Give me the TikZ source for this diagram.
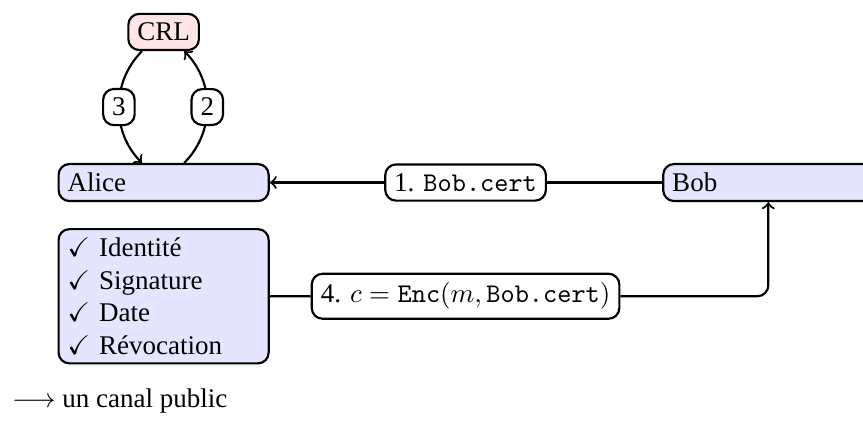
\documentclass[tikz,border=0pt]{standalone}
\usepackage{amssymb}
\usepackage{fontspec}
\setmainfont{Liberation Serif}
\usetikzlibrary{positioning, arrows}
\tikzstyle{party} = [rectangle, rounded corners, text width=2.5cm, align=left, draw=black, thick, fill=blue!10]
\tikzstyle{crlbox} = [rectangle, rounded corners, text centered, draw=black, thick, fill=red!10]
\tikzstyle{msg} = [rectangle, rounded corners, text centered, draw=black, thick, fill=white]
\tikzstyle{arrow} = [thick,->]

\begin{document}
\begin{tikzpicture}[node distance=2cm]
  \useasboundingbox (-60.6pt,67.6pt) rectangle ++(319.6pt,-155.9pt);

  \node (alice) [party] at (0,0) {Alice};
  \node (checks) [party, below of=alice, yshift=0.52cm] {$\checkmark$ Identité\\ $\checkmark$ Signature\\ $\checkmark$ Date\\ $\checkmark$ Révocation};
  \node (crl) [crlbox, above of=alice, yshift=-0.04cm] {CRL};
  \node (bob) [party, right of=alice, xshift=5.87cm] {Bob};
  \node (lbl1) [msg, right of=alice, xshift=1.93cm] {1. \texttt{Bob.cert}};
  \node (lbl4) [msg, below of=lbl1, yshift=0.52cm] {4. $c = \texttt{Enc}(m, \texttt{Bob.cert})$};
  \node (legend) [anchor=west, inner sep=0pt] at ([xshift=-17pt, yshift=-13.4pt]checks.south west) {$\longrightarrow$ un canal public};

  \draw [arrow] (bob) -- (lbl1) -- (alice);
  \draw [arrow] ([xshift=7.6pt]alice.north) to [bend right=45] node [msg] {2} ([xshift=7.6pt]crl.south);
  \draw [arrow] ([xshift=-8pt]crl.south) to [bend right=45] node [msg] {3} ([xshift=-8pt]alice.north);
  \draw [arrow, rounded corners] (checks) -- (lbl4) -| (bob);
\end{tikzpicture}
\end{document}
